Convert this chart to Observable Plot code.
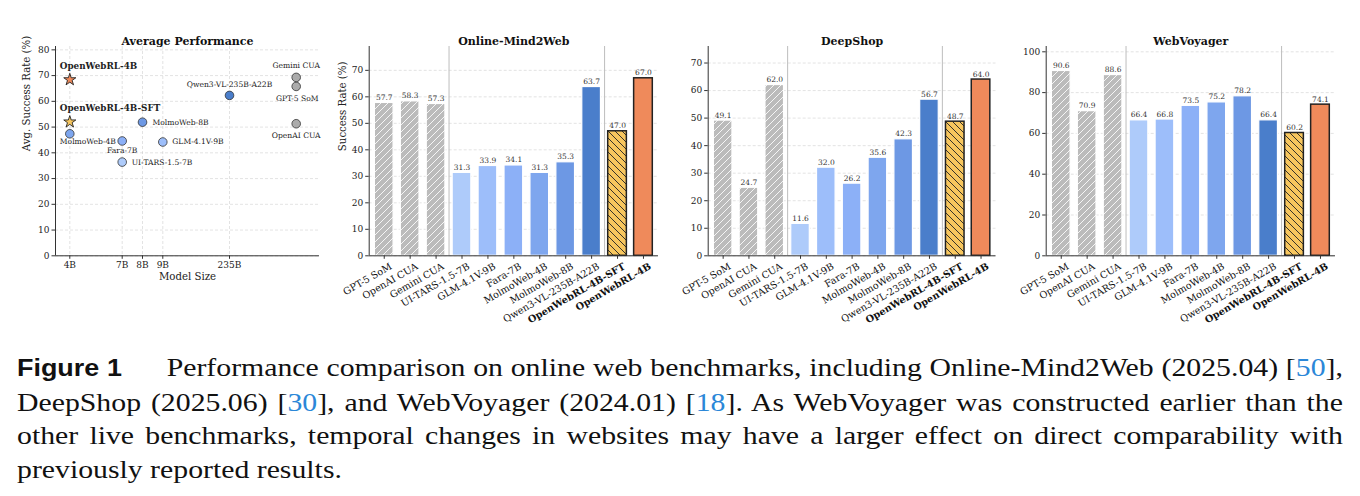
<!DOCTYPE html>
<html>
<head>
<meta charset="utf-8">
<script src="https://cdn.jsdelivr.net/npm/d3@7"></script>
<script src="https://cdn.jsdelivr.net/npm/@observablehq/plot@0.6"></script>
<style>
  html, body { margin: 0; padding: 0; background: #fff; }
  body { width: 1360px; height: 496px; overflow: hidden; position: relative; font-family: "DejaVu Serif", serif; }
  .panel { position: absolute; top: 0; }
  .panel svg { overflow: visible; }
  #caption { position: absolute; left: 17px; top: 351px; width: 1158px; transform: scaleX(1.145); transform-origin: 0 0;
    font-family: "Liberation Serif", serif; font-size: 26px; line-height: 33.5px; color: #111; }
  #caption .l { white-space: nowrap; text-align: justify; text-align-last: justify; }
  #caption .last { white-space: nowrap; text-align: left; }
  #caption .fig { font-family: "Liberation Sans", sans-serif; font-weight: bold; font-size: 23.5px; }
  #caption .ref { color: #2b87d8; }
</style>
</head>
<body>
<svg width="0" height="0" style="position:absolute">
  <defs>
    <pattern id="hatchGray" patternUnits="userSpaceOnUse" width="7" height="7">
      <rect width="7" height="7" fill="#bbbbbb"></rect>
      <path d="M0,7L7,0M-1,1L1,-1M6,8L8,6" stroke="#ffffff" stroke-width="1" stroke-opacity="0.85"></path>
    </pattern>
    <pattern id="hatchGold" patternUnits="userSpaceOnUse" width="7" height="7">
      <rect width="7" height="7" fill="#f7c65e"></rect>
      <path d="M0,0L7,7M-1,6L1,8M6,-1L8,1" stroke="#222222" stroke-width="0.9"></path>
    </pattern>
  </defs>
</svg>
<div id="p0" class="panel" style="left:0px"></div>
<div id="p1" class="panel" style="left:330px"></div>
<div id="p2" class="panel" style="left:670px"></div>
<div id="p3" class="panel" style="left:1010px"></div>
<div id="caption">
  <div class="l"><span class="fig">Figure 1</span>&emsp;&ensp;Performance comparison on online web benchmarks, including Online-Mind2Web (2025.04) [<span class="ref">50</span>],</div>
  <div class="l">DeepShop (2025.06) [<span class="ref">30</span>], and WebVoyager (2024.01) [<span class="ref">18</span>]. As WebVoyager was constructed earlier than the</div>
  <div class="l">other live benchmarks, temporal changes in websites may have a larger effect on direct comparability with</div>
  <div class="last">previously reported results.</div>
</div>
<script>
// ---------------- DATA ----------------
const models = ["GPT-5 SoM", "OpenAI CUA", "Gemini CUA", "UI-TARS-1.5-7B", "GLM-4.1V-9B", "Fara-7B",
  "MolmoWeb-4B", "MolmoWeb-8B", "Qwen3-VL-235B-A22B", "OpenWebRL-4B-SFT", "OpenWebRL-4B"];
const groups = ["closed", "closed", "closed", "open", "open", "open", "open", "open", "open", "ours", "ours"];
const modelSizeB = [null, null, null, 7, 9, 7, 4, 8, 235, 4, 4];
const onlineMind2Web = [57.7, 58.3, 57.3, 31.3, 33.9, 34.1, 31.3, 35.3, 63.7, 47.0, 67.0];
const deepShop = [49.1, 24.7, 62.0, 11.6, 32.0, 26.2, 35.6, 42.3, 56.7, 48.7, 64.0];
const webVoyager = [90.6, 70.9, 88.6, 66.4, 66.8, 73.5, 75.2, 78.2, 66.4, 60.2, 74.1];
const avgSuccess = [65.8, 51.3, 69.3, 36.4, 44.2, 44.6, 47.4, 51.9, 62.3, 52.0, 68.4];
const sizeTicks = [4, 7, 8, 9, 235];
const sizeTickLabels = ["4B", "7B", "8B", "9B", "235B"];
const avgTicks = [0, 10, 20, 30, 40, 50, 60, 70, 80];
const m2wTicks = [0, 10, 20, 30, 40, 50, 60, 70];
const deepShopTicks = [0, 10, 20, 30, 40, 50, 60, 70];
const webVoyagerTicks = [0, 20, 40, 60, 80, 100];

// ---------------- STYLE ----------------
const barFill = {
  "GPT-5 SoM": "url(#hatchGray)", "OpenAI CUA": "url(#hatchGray)", "Gemini CUA": "url(#hatchGray)",
  "UI-TARS-1.5-7B": "#aecbfa", "GLM-4.1V-9B": "#9dbefa", "Fara-7B": "#8cb0f7", "MolmoWeb-4B": "#7ea6ee",
  "MolmoWeb-8B": "#6d98e4", "Qwen3-VL-235B-A22B": "#4a7ecb", "OpenWebRL-4B-SFT": "url(#hatchGold)", "OpenWebRL-4B": "#ef8a5b"
};
const dotFill = Object.assign({}, barFill, {
  "GPT-5 SoM": "#ababab", "OpenAI CUA": "#ababab", "Gemini CUA": "#ababab", "OpenWebRL-4B-SFT": "#f7c65e"
});
const API_SLOT = 300; // x-slot for closed models (no public size)
const sizeScaleDomain = [2, 4, 7, 9, 235, API_SLOT, 330];
const sizeScaleRange = [55, 69.3, 121.7, 162.3, 229, 295.7, 319];
const scatterLabels = {
  "OpenWebRL-4B": {dx: -10, dy: -13.5, anchor: "start", bold: true},
  "OpenWebRL-4B-SFT": {dx: -10, dy: -13.5, anchor: "start", bold: true},
  "MolmoWeb-4B": {dx: -10, dy: 7.5, anchor: "start"},
  "Fara-7B": {dx: 0, dy: 9.5, anchor: "middle"},
  "UI-TARS-1.5-7B": {dx: 9.5, dy: 0, anchor: "start"},
  "MolmoWeb-8B": {dx: 10, dy: 0, anchor: "start"},
  "GLM-4.1V-9B": {dx: 9.5, dy: 0, anchor: "start"},
  "Qwen3-VL-235B-A22B": {dx: 0, dy: -10.5, anchor: "middle"},
  "Gemini CUA": {dx: 0, dy: -12, anchor: "middle"},
  "GPT-5 SoM": {dx: 1, dy: 12.3, anchor: "middle"},
  "OpenAI CUA": {dx: 0, dy: 12.3, anchor: "middle"}
};
const INK = "#222";
const baseStyle = {fontFamily: "DejaVu Serif", fontSize: "9px", color: INK, background: "transparent", overflow: "visible"};
const gridStyle = {stroke: "#b5b5b5", strokeOpacity: 0.55, strokeDasharray: "3,2", strokeWidth: 0.7};

// ---------------- SCATTER ----------------
const scatterData = models.map((m, i) => ({
  model: m, group: groups[i], size: modelSizeB[i] == null ? API_SLOT : modelSizeB[i], avg: avgSuccess[i]
}));
const circles = scatterData.filter(d => d.group !== "ours");
const stars = scatterData.filter(d => d.group === "ours");
const labelMarks = scatterData.map(d => {
  const o = scatterLabels[d.model];
  return Plot.text([d], {x: "size", y: "avg", text: "model", dx: o.dx, dy: o.dy, textAnchor: o.anchor,
    fontSize: o.bold ? 8.8 : 7.6, fontWeight: o.bold ? "bold" : "normal", fill: INK});
});
const avgMax = d3.max(avgSuccess) + 12;

const scatter = Plot.plot({
  width: 330, height: 330, marginLeft: 55, marginRight: 11, marginTop: 46, marginBottom: 74.7,
  style: baseStyle,
  x: {type: "linear", domain: sizeScaleDomain, range: sizeScaleRange},
  y: {domain: [0, avgMax]},
  marks: [
    Plot.gridY(avgTicks, gridStyle),
    Plot.gridX(sizeTicks, gridStyle),
    Plot.axisY(avgTicks, {tickSize: 3.5, tickPadding: 2.5, fontSize: 9, label: null, stroke: "#333"}),
    Plot.axisX(sizeTicks, {tickSize: 3.5, tickPadding: 2, fontSize: 9, label: null, stroke: "#333",
      tickFormat: d => sizeTickLabels[sizeTicks.indexOf(d)]}),
    Plot.ruleX([sizeScaleDomain[0]], {stroke: "#333", strokeWidth: 1}),
    Plot.ruleY([0], {stroke: "#333", strokeWidth: 1}),
    Plot.dot(circles, {x: "size", y: "avg", r: 4.3, fill: d => dotFill[d.model], stroke: "#333", strokeWidth: 0.8}),
    Plot.dot(stars, {x: "size", y: "avg", r: 3.8, symbol: "star", fill: d => dotFill[d.model], stroke: "#222", strokeWidth: 0.9}),
    ...labelMarks,
    Plot.text(["Average Performance"], {frameAnchor: "top", dy: -9.5, fontWeight: "bold", fontSize: 11, fill: "#111"}),
    Plot.text(["Avg. Success Rate (%)"], {frameAnchor: "left", dx: -29, rotate: -90, fontSize: 10.2, fill: INK}),
    Plot.text(["Model Size"], {frameAnchor: "bottom", dy: 24, fontSize: 10.2, fill: INK})
  ]
});
document.getElementById("p0").appendChild(scatter);

// ---------------- BAR PANELS ----------------
const separators = models.map((_, i) => i).filter(i => i > 0 && groups[i] !== groups[i - 1]).map(i => i - 0.5);
const BAR_HALF = 0.36;
function barPanel(title, values, ticks, ylabel, ml, mr) {
  const data = models.map((m, i) => ({i, model: m, group: groups[i], v: values[i], fill: barFill[m]}));
  const xDomain = [-0.58, models.length - 1 + 0.58];
  const normal = data.filter(d => d.group !== "ours");
  const ours = data.filter(d => d.group === "ours");
  const tickLabel = (subset, bold) => Plot.text(subset, {x: "i", text: "model", frameAnchor: "bottom",
    dy: 6.5, dx: 5, rotate: -30, textAnchor: "end", lineAnchor: "top", fontSize: 9.7,
    fontWeight: bold ? "bold" : "normal", fill: "#111"});
  const marks = [
    Plot.gridY(ticks, gridStyle),
    Plot.ruleX(separators, {stroke: "#bdbdbd", strokeWidth: 1}),
    Plot.rectY(normal, {x1: d => d.i - BAR_HALF, x2: d => d.i + BAR_HALF, y: "v", fill: "fill", stroke: "#fff", strokeWidth: 1.2}),
    Plot.rectY(ours, {x1: d => d.i - BAR_HALF, x2: d => d.i + BAR_HALF, y: "v", fill: "fill", stroke: "#222", strokeWidth: 1.5}),
    Plot.text(data, {x: "i", y: "v", text: d => d.v.toFixed(1), dy: -3, lineAnchor: "bottom", fontSize: 7.5, fill: "#333"}),
    Plot.ruleX([xDomain[0]], {stroke: "#333", strokeWidth: 1}),
    Plot.ruleY([0], {stroke: "#333", strokeWidth: 1}),
    Plot.axisY(ticks, {tickSize: 3.5, tickPadding: 2.5, fontSize: 9, label: null, stroke: "#333"}),
    Plot.axisX(data.map(d => d.i), {tickSize: 3.5, tickFormat: () => "", label: null, stroke: "#333"}),
    tickLabel(normal, false),
    tickLabel(ours, true),
    Plot.text([title], {frameAnchor: "top", dy: -9.5, fontWeight: "bold", fontSize: 11, fill: "#111"})
  ];
  if (ylabel) marks.push(Plot.text([ylabel], {frameAnchor: "left", dx: -26, rotate: -90, fontSize: 10.2, fill: INK}));
  return Plot.plot({
    width: 340, height: 330, marginLeft: ml, marginRight: mr, marginTop: 46, marginBottom: 74.7,
    style: baseStyle,
    x: {type: "linear", domain: xDomain},
    y: {domain: [0, d3.max(values) + 12]},
    marks
  });
}
document.getElementById("p1").appendChild(barPanel("Online-Mind2Web", onlineMind2Web, m2wTicks, "Success Rate (%)", 38.7, 12));
document.getElementById("p2").appendChild(barPanel("DeepShop", deepShop, deepShopTicks, null, 37.7, 14.5));
document.getElementById("p3").appendChild(barPanel("WebVoyager", webVoyager, webVoyagerTicks, null, 35.7, 15));
</script>
</body>
</html>
